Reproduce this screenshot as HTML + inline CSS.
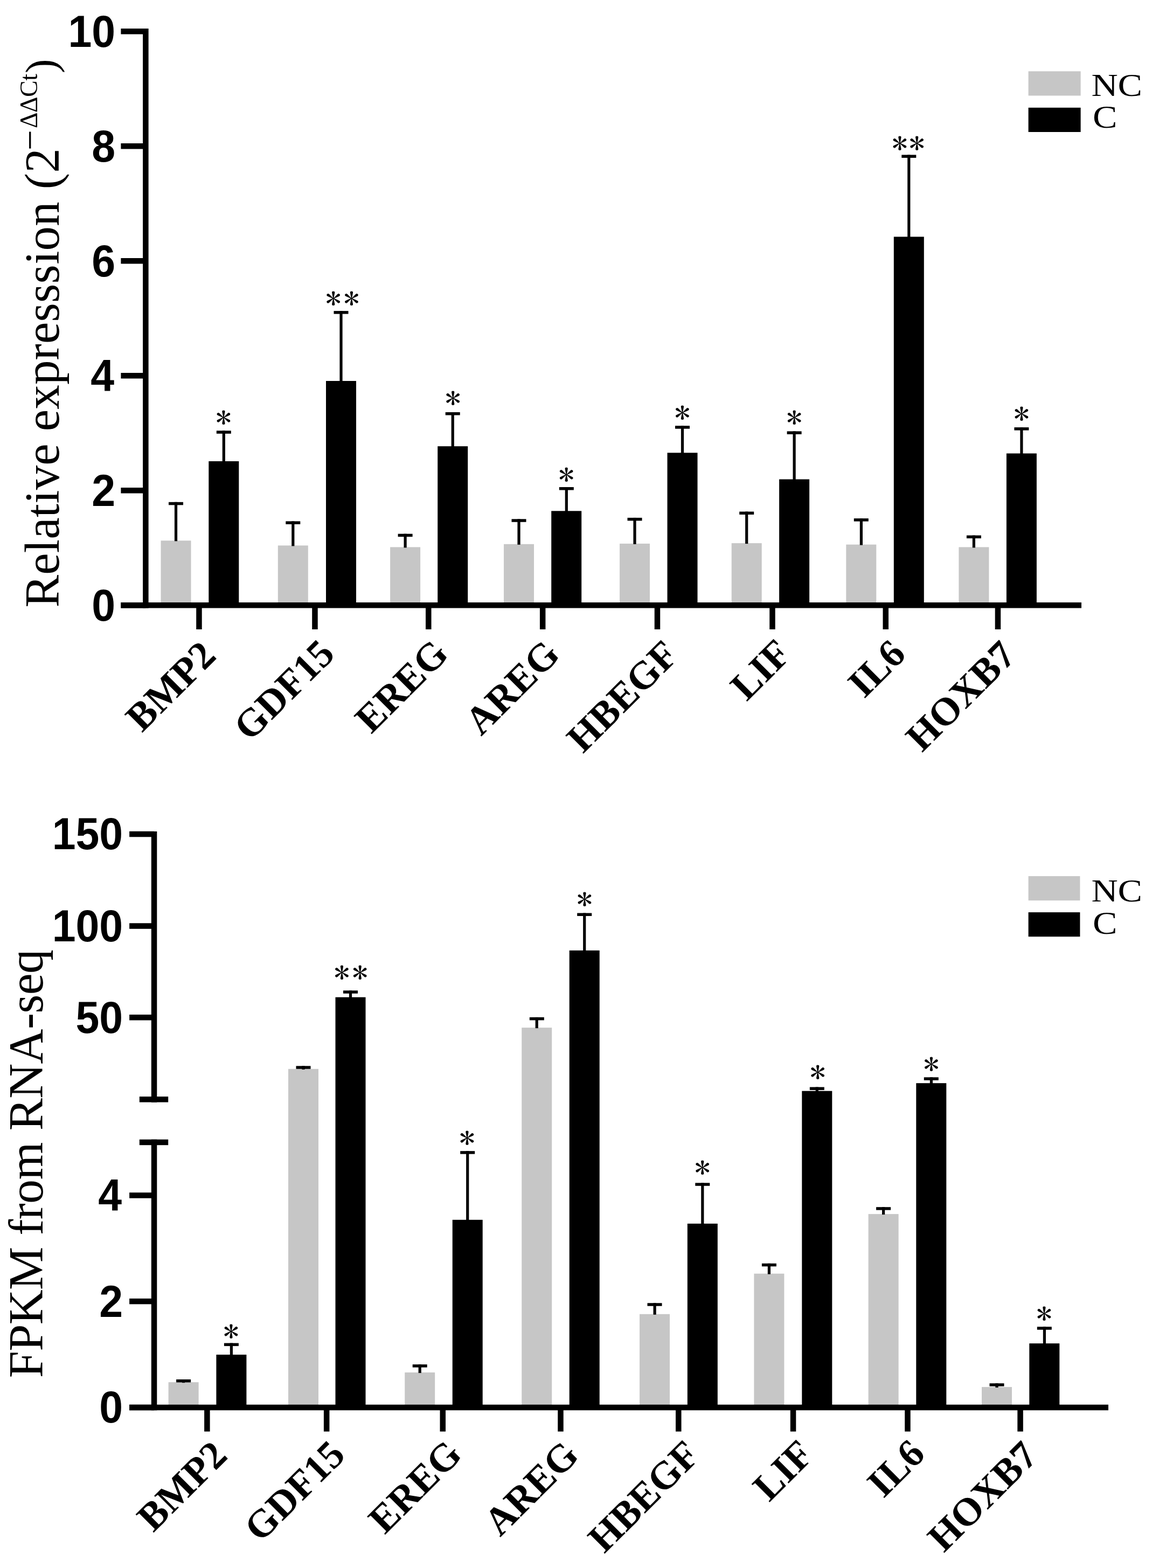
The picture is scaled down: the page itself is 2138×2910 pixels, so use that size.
<!DOCTYPE html>
<html><head><meta charset="utf-8"><title>Figure</title><style>html,body{margin:0;padding:0;background:#fff;overflow:hidden;}svg{display:block;}</style></head><body>
<svg width="2138" height="2910" viewBox="0 0 2138 2910">
<rect width="2138" height="2910" fill="#fff"/>
<rect x="298.5" y="1003.3" width="56" height="120.0" fill="#c6c6c6"/>
<rect x="323.9" y="931.8" width="5.2" height="72.5" fill="#000"/>
<rect x="313.0" y="931.8" width="27" height="5.5" fill="#000"/>
<rect x="515.8" y="1012.4" width="56" height="110.9" fill="#c6c6c6"/>
<rect x="541.2" y="967.4" width="5.2" height="46.0" fill="#000"/>
<rect x="530.3" y="967.4" width="27" height="5.5" fill="#000"/>
<rect x="724.1" y="1015.4" width="56" height="107.9" fill="#c6c6c6"/>
<rect x="749.5" y="990.7" width="5.2" height="25.7" fill="#000"/>
<rect x="738.6" y="990.7" width="27" height="5.5" fill="#000"/>
<rect x="935.0" y="1009.8" width="56" height="113.5" fill="#c6c6c6"/>
<rect x="960.4" y="963.3" width="5.2" height="47.5" fill="#000"/>
<rect x="949.5" y="963.3" width="27" height="5.5" fill="#000"/>
<rect x="1150.0" y="1008.9" width="56" height="114.4" fill="#c6c6c6"/>
<rect x="1175.4" y="960.9" width="5.2" height="49.0" fill="#000"/>
<rect x="1164.5" y="960.9" width="27" height="5.5" fill="#000"/>
<rect x="1357.7" y="1008.1" width="56" height="115.2" fill="#c6c6c6"/>
<rect x="1383.1" y="949.5" width="5.2" height="59.6" fill="#000"/>
<rect x="1372.2" y="949.5" width="27" height="5.5" fill="#000"/>
<rect x="1570.3" y="1010.6" width="56" height="112.7" fill="#c6c6c6"/>
<rect x="1595.8" y="962.1" width="5.2" height="49.5" fill="#000"/>
<rect x="1584.8" y="962.1" width="27" height="5.5" fill="#000"/>
<rect x="1779.4" y="1015.4" width="56" height="107.9" fill="#c6c6c6"/>
<rect x="1804.8" y="993.6" width="5.2" height="22.8" fill="#000"/>
<rect x="1793.9" y="993.6" width="27" height="5.5" fill="#000"/>
<rect x="387.3" y="856" width="56" height="267.3" fill="#000"/>
<rect x="412.7" y="799.3" width="5.2" height="57.7" fill="#000"/>
<rect x="401.8" y="799.3" width="27" height="5.5" fill="#000"/>
<text x="357.3" y="795.2" font-family="IPAGothic, Liberation Serif, serif" font-size="52.5" transform="scale(1.12 1)">*</text>
<rect x="605.0" y="707" width="56" height="416.3" fill="#000"/>
<rect x="630.4" y="577.1" width="5.2" height="130.9" fill="#000"/>
<rect x="619.5" y="577.1" width="27" height="5.5" fill="#000"/>
<text x="539.2" y="573.6" font-family="IPAGothic, Liberation Serif, serif" font-size="52.5" transform="scale(1.12 1)" letter-spacing="3.9">**</text>
<rect x="812.2" y="828.2" width="56" height="295.1" fill="#000"/>
<rect x="837.6" y="765" width="5.2" height="64.2" fill="#000"/>
<rect x="826.7" y="765" width="27" height="5.5" fill="#000"/>
<text x="737.5" y="759.5" font-family="IPAGothic, Liberation Serif, serif" font-size="52.5" transform="scale(1.12 1)">*</text>
<rect x="1023.2" y="948.3" width="56" height="175.0" fill="#000"/>
<rect x="1048.7" y="904" width="5.2" height="45.3" fill="#000"/>
<rect x="1037.8" y="904" width="27" height="5.5" fill="#000"/>
<text x="925.5" y="900.6" font-family="IPAGothic, Liberation Serif, serif" font-size="52.5" transform="scale(1.12 1)">*</text>
<rect x="1238.5" y="840.3" width="56" height="283.0" fill="#000"/>
<rect x="1263.9" y="790.2" width="5.2" height="51.1" fill="#000"/>
<rect x="1253.0" y="790.2" width="27" height="5.5" fill="#000"/>
<text x="1117.7" y="786.1" font-family="IPAGothic, Liberation Serif, serif" font-size="52.5" transform="scale(1.12 1)">*</text>
<rect x="1446.1" y="889.5" width="56" height="233.8" fill="#000"/>
<rect x="1471.5" y="800.4" width="5.2" height="90.1" fill="#000"/>
<rect x="1460.6" y="800.4" width="27" height="5.5" fill="#000"/>
<text x="1303.1" y="795.1" font-family="IPAGothic, Liberation Serif, serif" font-size="52.5" transform="scale(1.12 1)">*</text>
<rect x="1658.8" y="439.4" width="56" height="683.9" fill="#000"/>
<rect x="1684.2" y="287.4" width="5.2" height="153.0" fill="#000"/>
<rect x="1673.3" y="287.4" width="27" height="5.5" fill="#000"/>
<text x="1477.9" y="285.8" font-family="IPAGothic, Liberation Serif, serif" font-size="52.5" transform="scale(1.12 1)" letter-spacing="2.2">**</text>
<rect x="1867.9" y="841.5" width="56" height="281.8" fill="#000"/>
<rect x="1893.3" y="793.1" width="5.2" height="49.4" fill="#000"/>
<rect x="1882.4" y="793.1" width="27" height="5.5" fill="#000"/>
<text x="1679.7" y="787.8" font-family="IPAGothic, Liberation Serif, serif" font-size="52.5" transform="scale(1.12 1)">*</text>
<rect x="224.4" y="1118.0" width="1782.6" height="10.5" fill="#000"/>
<rect x="364.2" y="1123.3" width="10.5" height="44.7" fill="#000"/>
<rect x="579.2" y="1123.3" width="10.5" height="44.7" fill="#000"/>
<rect x="790.0" y="1123.3" width="10.5" height="44.7" fill="#000"/>
<rect x="1001.9" y="1123.3" width="10.5" height="44.7" fill="#000"/>
<rect x="1214.7" y="1123.3" width="10.5" height="44.7" fill="#000"/>
<rect x="1428.2" y="1123.3" width="10.5" height="44.7" fill="#000"/>
<rect x="1638.5" y="1123.3" width="10.5" height="44.7" fill="#000"/>
<rect x="1846.7" y="1123.3" width="10.5" height="44.7" fill="#000"/>
<rect x="265.1" y="53" width="10.5" height="1075.5" fill="#000"/>
<rect x="224.4" y="53.0" width="45.9" height="10.5" fill="#000"/>
<text x="214.2" y="86.7" font-family="Liberation Sans, Arial, sans-serif" font-weight="bold" font-size="83" text-anchor="end" transform="translate(214.2 0) scale(0.95 1) translate(-214.2 0)">10</text>
<rect x="224.4" y="266.0" width="45.9" height="10.5" fill="#000"/>
<text x="214.2" y="299.7" font-family="Liberation Sans, Arial, sans-serif" font-weight="bold" font-size="83" text-anchor="end" transform="translate(214.2 0) scale(0.95 1) translate(-214.2 0)">8</text>
<rect x="224.4" y="479.0" width="45.9" height="10.5" fill="#000"/>
<text x="214.2" y="512.7" font-family="Liberation Sans, Arial, sans-serif" font-weight="bold" font-size="83" text-anchor="end" transform="translate(214.2 0) scale(0.95 1) translate(-214.2 0)">6</text>
<rect x="224.4" y="692.0" width="45.9" height="10.5" fill="#000"/>
<text x="212.2" y="725.7" font-family="Liberation Sans, Arial, sans-serif" font-weight="bold" font-size="83" text-anchor="end" transform="translate(212.2 0) scale(0.95 1) translate(-212.2 0)">4</text>
<rect x="224.4" y="905.0" width="45.9" height="10.5" fill="#000"/>
<text x="214.2" y="938.7" font-family="Liberation Sans, Arial, sans-serif" font-weight="bold" font-size="83" text-anchor="end" transform="translate(214.2 0) scale(0.95 1) translate(-214.2 0)">2</text>
<rect x="224.4" y="1118.0" width="45.9" height="10.5" fill="#000"/>
<text x="214.2" y="1151.7" font-family="Liberation Sans, Arial, sans-serif" font-weight="bold" font-size="83" text-anchor="end" transform="translate(214.2 0) scale(0.95 1) translate(-214.2 0)">0</text>
<rect x="312.6" y="2565.2" width="56" height="46.8" fill="#c6c6c6"/>
<rect x="337.9" y="2560" width="5.2" height="6.2" fill="#000"/>
<rect x="327.1" y="2560" width="27" height="5.5" fill="#000"/>
<rect x="535.0" y="1983.8" width="56" height="628.2" fill="#c6c6c6"/>
<rect x="560.4" y="1978.3" width="5.2" height="6.5" fill="#000"/>
<rect x="549.5" y="1978.3" width="27" height="5.5" fill="#000"/>
<rect x="751.2" y="2547.1" width="56" height="64.9" fill="#c6c6c6"/>
<rect x="776.6" y="2532.2" width="5.2" height="15.9" fill="#000"/>
<rect x="765.7" y="2532.2" width="27" height="5.5" fill="#000"/>
<rect x="968.2" y="1907.2" width="56" height="704.8" fill="#c6c6c6"/>
<rect x="993.6" y="1887.9" width="5.2" height="20.3" fill="#000"/>
<rect x="982.8" y="1887.9" width="27" height="5.5" fill="#000"/>
<rect x="1187.0" y="2438.8" width="56" height="173.2" fill="#c6c6c6"/>
<rect x="1212.5" y="2418.3" width="5.2" height="21.5" fill="#000"/>
<rect x="1201.5" y="2418.3" width="27" height="5.5" fill="#000"/>
<rect x="1399.4" y="2363.7" width="56" height="248.3" fill="#c6c6c6"/>
<rect x="1424.8" y="2344.8" width="5.2" height="19.9" fill="#000"/>
<rect x="1413.9" y="2344.8" width="27" height="5.5" fill="#000"/>
<rect x="1611.6" y="2253.1" width="56" height="358.9" fill="#c6c6c6"/>
<rect x="1637.0" y="2240.2" width="5.2" height="13.9" fill="#000"/>
<rect x="1626.1" y="2240.2" width="27" height="5.5" fill="#000"/>
<rect x="1822.0" y="2574.1" width="56" height="37.9" fill="#c6c6c6"/>
<rect x="1847.4" y="2567.3" width="5.2" height="7.8" fill="#000"/>
<rect x="1836.5" y="2567.3" width="27" height="5.5" fill="#000"/>
<rect x="401.4" y="2514.1" width="56" height="97.9" fill="#000"/>
<rect x="426.8" y="2492.6" width="5.2" height="22.5" fill="#000"/>
<rect x="415.9" y="2492.6" width="27" height="5.5" fill="#000"/>
<text x="369.8" y="2490.6" font-family="IPAGothic, Liberation Serif, serif" font-size="52.5" transform="scale(1.12 1)">*</text>
<rect x="622.5" y="1850.7" width="56" height="761.3" fill="#000"/>
<rect x="647.9" y="1838.3" width="5.2" height="13.4" fill="#000"/>
<rect x="637.0" y="1838.3" width="27" height="5.5" fill="#000"/>
<text x="553.4" y="1825.5" font-family="IPAGothic, Liberation Serif, serif" font-size="52.5" transform="scale(1.12 1)" letter-spacing="3.9">**</text>
<rect x="839.7" y="2263.8" width="56" height="348.2" fill="#000"/>
<rect x="865.1" y="2136.2" width="5.2" height="128.6" fill="#000"/>
<rect x="854.2" y="2136.2" width="27" height="5.5" fill="#000"/>
<text x="761.0" y="2132.2" font-family="IPAGothic, Liberation Serif, serif" font-size="52.5" transform="scale(1.12 1)">*</text>
<rect x="1056.7" y="1763.9" width="56" height="848.1" fill="#000"/>
<rect x="1082.1" y="1694.5" width="5.2" height="70.4" fill="#000"/>
<rect x="1071.2" y="1694.5" width="27" height="5.5" fill="#000"/>
<text x="955.6" y="1688.8" font-family="IPAGothic, Liberation Serif, serif" font-size="52.5" transform="scale(1.12 1)">*</text>
<rect x="1275.8" y="2270.9" width="56" height="341.1" fill="#000"/>
<rect x="1301.2" y="2195.3" width="5.2" height="76.6" fill="#000"/>
<rect x="1290.3" y="2195.3" width="27" height="5.5" fill="#000"/>
<text x="1151.0" y="2186.9" font-family="IPAGothic, Liberation Serif, serif" font-size="52.5" transform="scale(1.12 1)">*</text>
<rect x="1488.3" y="2024.7" width="56" height="587.3" fill="#000"/>
<rect x="1513.7" y="2017.5" width="5.2" height="8.2" fill="#000"/>
<rect x="1502.8" y="2017.5" width="27" height="5.5" fill="#000"/>
<text x="1341.9" y="2009.8" font-family="IPAGothic, Liberation Serif, serif" font-size="52.5" transform="scale(1.12 1)">*</text>
<rect x="1700.3" y="2010.2" width="56" height="601.8" fill="#000"/>
<rect x="1725.8" y="1999.3" width="5.2" height="11.9" fill="#000"/>
<rect x="1714.8" y="1999.3" width="27" height="5.5" fill="#000"/>
<text x="1530.1" y="1995.2" font-family="IPAGothic, Liberation Serif, serif" font-size="52.5" transform="scale(1.12 1)">*</text>
<rect x="1910.3" y="2493.2" width="56" height="118.8" fill="#000"/>
<rect x="1935.8" y="2462.3" width="5.2" height="31.9" fill="#000"/>
<rect x="1924.8" y="2462.3" width="27" height="5.5" fill="#000"/>
<text x="1717.3" y="2458.3" font-family="IPAGothic, Liberation Serif, serif" font-size="52.5" transform="scale(1.12 1)">*</text>
<rect x="240.1" y="2606.8" width="1816.9" height="10.5" fill="#000"/>
<rect x="379.1" y="2612.0" width="10.5" height="44.7" fill="#000"/>
<rect x="600.9" y="2612.0" width="10.5" height="44.7" fill="#000"/>
<rect x="816.5" y="2612.0" width="10.5" height="44.7" fill="#000"/>
<rect x="1035.2" y="2612.0" width="10.5" height="44.7" fill="#000"/>
<rect x="1254.0" y="2612.0" width="10.5" height="44.7" fill="#000"/>
<rect x="1466.8" y="2612.0" width="10.5" height="44.7" fill="#000"/>
<rect x="1679.2" y="2612.0" width="10.5" height="44.7" fill="#000"/>
<rect x="1888.3" y="2612.0" width="10.5" height="44.7" fill="#000"/>
<rect x="280.8" y="1543" width="10.5" height="502.8" fill="#000"/>
<rect x="280.8" y="2114.7" width="10.5" height="502.6" fill="#000"/>
<rect x="240.1" y="1542.8" width="45.9" height="10.5" fill="#000"/>
<text x="228.2" y="1576.4" font-family="Liberation Sans, Arial, sans-serif" font-weight="bold" font-size="83" text-anchor="end" transform="translate(228.2 0) scale(0.95 1) translate(-228.2 0)">150</text>
<rect x="240.1" y="1713.3" width="45.9" height="10.5" fill="#000"/>
<text x="228.2" y="1747.0" font-family="Liberation Sans, Arial, sans-serif" font-weight="bold" font-size="83" text-anchor="end" transform="translate(228.2 0) scale(0.95 1) translate(-228.2 0)">100</text>
<rect x="240.1" y="1883.0" width="45.9" height="10.5" fill="#000"/>
<text x="228.2" y="1916.7" font-family="Liberation Sans, Arial, sans-serif" font-weight="bold" font-size="83" text-anchor="end" transform="translate(228.2 0) scale(0.95 1) translate(-228.2 0)">50</text>
<rect x="240.1" y="2213.2" width="45.9" height="10.5" fill="#000"/>
<text x="226.2" y="2246.9" font-family="Liberation Sans, Arial, sans-serif" font-weight="bold" font-size="83" text-anchor="end" transform="translate(226.2 0) scale(0.95 1) translate(-226.2 0)">4</text>
<rect x="240.1" y="2409.9" width="45.9" height="10.5" fill="#000"/>
<text x="228.2" y="2443.6" font-family="Liberation Sans, Arial, sans-serif" font-weight="bold" font-size="83" text-anchor="end" transform="translate(228.2 0) scale(0.95 1) translate(-228.2 0)">2</text>
<rect x="240.1" y="2606.8" width="45.9" height="10.5" fill="#000"/>
<text x="228.2" y="2640.4" font-family="Liberation Sans, Arial, sans-serif" font-weight="bold" font-size="83" text-anchor="end" transform="translate(228.2 0) scale(0.95 1) translate(-228.2 0)">0</text>
<rect x="258.8" y="2035.1" width="53.4" height="10.5" fill="#000"/>
<rect x="258.8" y="2114.7" width="53.4" height="10.5" fill="#000"/>
<text x="404.1" y="1220.3" font-family="Liberation Serif, Times New Roman, serif" font-weight="bold" font-size="73" text-anchor="end" transform="rotate(-45 404.1 1220.3)">BMP2</text>
<text x="624.3" y="1217.2" font-family="Liberation Serif, Times New Roman, serif" font-weight="bold" font-size="73" text-anchor="end" transform="rotate(-45 624.3 1217.2)">GDF15</text>
<text x="835.4" y="1217.2" font-family="Liberation Serif, Times New Roman, serif" font-weight="bold" font-size="73" text-anchor="end" transform="rotate(-45 835.4 1217.2)">EREG</text>
<text x="1042.2" y="1218.2" font-family="Liberation Serif, Times New Roman, serif" font-weight="bold" font-size="73" text-anchor="end" transform="rotate(-45 1042.2 1218.2)">AREG</text>
<text x="1262.8" y="1219" font-family="Liberation Serif, Times New Roman, serif" font-weight="bold" font-size="73" text-anchor="end" transform="rotate(-45 1262.8 1219)">HBEGF</text>
<text x="1471.9" y="1217.0" font-family="Liberation Serif, Times New Roman, serif" font-weight="bold" font-size="73" text-anchor="end" transform="rotate(-45 1471.9 1217.0)">LIF</text>
<text x="1684.2" y="1217.5" font-family="Liberation Serif, Times New Roman, serif" font-weight="bold" font-size="73" text-anchor="end" transform="rotate(-45 1684.2 1217.5)">IL6</text>
<text x="1889.2" y="1219.8" font-family="Liberation Serif, Times New Roman, serif" font-weight="bold" font-size="73" text-anchor="end" transform="rotate(-45 1889.2 1219.8)">HOXB7</text>
<text x="425.1" y="2704.7" font-family="Liberation Serif, Times New Roman, serif" font-weight="bold" font-size="73" text-anchor="end" transform="rotate(-45 425.1 2704.7)">BMP2</text>
<text x="643.9" y="2703.6" font-family="Liberation Serif, Times New Roman, serif" font-weight="bold" font-size="73" text-anchor="end" transform="rotate(-45 643.9 2703.6)">GDF15</text>
<text x="860.4" y="2702.9" font-family="Liberation Serif, Times New Roman, serif" font-weight="bold" font-size="73" text-anchor="end" transform="rotate(-45 860.4 2702.9)">EREG</text>
<text x="1077.4" y="2704.3" font-family="Liberation Serif, Times New Roman, serif" font-weight="bold" font-size="73" text-anchor="end" transform="rotate(-45 1077.4 2704.3)">AREG</text>
<text x="1302.2" y="2703.9" font-family="Liberation Serif, Times New Roman, serif" font-weight="bold" font-size="73" text-anchor="end" transform="rotate(-45 1302.2 2703.9)">HBEGF</text>
<text x="1513.5" y="2703" font-family="Liberation Serif, Times New Roman, serif" font-weight="bold" font-size="73" text-anchor="end" transform="rotate(-45 1513.5 2703)">LIF</text>
<text x="1719.9" y="2701.7" font-family="Liberation Serif, Times New Roman, serif" font-weight="bold" font-size="73" text-anchor="end" transform="rotate(-45 1719.9 2701.7)">IL6</text>
<text x="1929.7" y="2705.1" font-family="Liberation Serif, Times New Roman, serif" font-weight="bold" font-size="73" text-anchor="end" transform="rotate(-45 1929.7 2705.1)">HOXB7</text>
<rect x="1908.6" y="132.3" width="97" height="45.2" fill="#c6c6c6"/>
<rect x="1908.6" y="199.8" width="97" height="45.2" fill="#000"/>
<text x="2025.4" y="177.9" font-family="Liberation Serif, Times New Roman, serif" font-size="59.5" transform="translate(2025.4 0) scale(1.145 1) translate(-2025.4 0)">NC</text>
<text x="2028.1" y="237.2" font-family="Liberation Serif, Times New Roman, serif" font-size="59.5" transform="translate(2028.1 0) scale(1.145 1) translate(-2028.1 0)">C</text>
<rect x="1908.6" y="1626" width="95.8" height="45.2" fill="#c6c6c6"/>
<rect x="1908.6" y="1693.1" width="95.8" height="45.2" fill="#000"/>
<text x="2025.4" y="1673.2" font-family="Liberation Serif, Times New Roman, serif" font-size="59.5" transform="translate(2025.4 0) scale(1.145 1) translate(-2025.4 0)">NC</text>
<text x="2028.1" y="1732.8" font-family="Liberation Serif, Times New Roman, serif" font-size="59.5" transform="translate(2028.1 0) scale(1.145 1) translate(-2028.1 0)">C</text>
<g transform="rotate(-90)" font-family="Liberation Serif, Times New Roman, serif">
<text x="-1127.5" y="109" font-size="91" textLength="852.2" lengthAdjust="spacing">Relative expresssion (2</text>
<text x="-278.7" y="78" font-size="67">−</text>
<text x="-237.95" y="69.2" font-size="46" textLength="100.9" lengthAdjust="spacing">ΔΔCt</text>
<text x="-136.1" y="103.2" font-size="80">)</text>
<text x="-2557.2" y="78.5" font-size="90" textLength="795.2" lengthAdjust="spacing">FPKM from RNA-seq</text>
</g>
</svg>
</body></html>
